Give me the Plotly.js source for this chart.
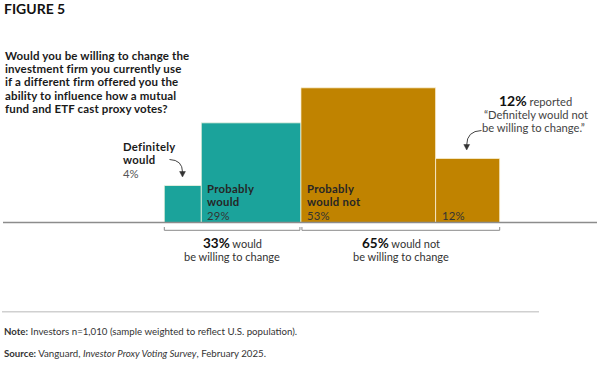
<!DOCTYPE html>
<html>
<head>
<meta charset="utf-8">
<script src="https://cdn.plot.ly/plotly-3.0.1.min.js"></script>
<style>html,body{margin:0;padding:0;background:#fff;}#chart{width:600px;height:366px;}</style>
</head>
<body>
<div id="chart"></div>
<script>
// ---- data ----
const categories = ["Definitely would", "Probably would", "Probably would not", "Definitely would not"];
const labelLines = [["Definitely", "would"], ["Probably", "would"], ["Probably", "would not"], []];
const values = [4, 29, 53, 12];
const groupLead = ["would", "would not"];
const groupTail = "be willing to change";
const groupTotals = [33, 65];
const groupMembers = [[0, 1], [2, 3]];
const questionLines = [
  "Would you be willing to change the",
  "investment firm you currently use",
  "if a different firm offered you the",
  "ability to influence how a mutual",
  "fund and ETF cast proxy votes?"
];
const calloutLines = ["reported", "\u201cDefinitely would not", "be willing to change.\u201d"];
const figureLabel = "FIGURE 5";
const noteText = "Investors n=1,010 (sample weighted to reflect U.S. population).";
const sourceParts = ["Vanguard, ", "Investor Proxy Voting Survey", ", February 2025."];

// ---- styling ----
const W = 600, H = 366;
const FONT = "Lato, 'Open Sans', sans-serif";
const TEAL = "#1BA39B", GOLD = "#C08300";
const barColors = [TEAL, TEAL, GOLD, GOLD];
const k = 18.5;           // px per sqrt-unit
const x0px = 164.3;       // left edge of first square
const basePx = 222.5;     // baseline pixel

const sides = values.map(v => Math.sqrt(v));
const lefts = [];
let acc = 0;
sides.forEach(s => { lefts.push(acc); acc += s; });
const centers = sides.map((s, i) => lefts[i] + s / 2);

const px = x => x / W;
const py = y => 1 - y / H;
const sp = (t, ls) => '<span style="letter-spacing:' + ls + 'px">' + t + '</span>';

const annotations = [];
function txt(text, x, y, opts) {
  annotations.push(Object.assign({
    text: text, xref: 'paper', yref: 'paper', x: px(x), y: py(y),
    xanchor: 'left', yanchor: 'middle', showarrow: false,
    font: {family: FONT, size: 11, color: '#1a1a1a'}
  }, opts || {}));
}

txt('<b>' + figureLabel + '</b>', 2, 8, {font: {family: FONT, size: 14, color: '#111'}});
questionLines.forEach((l, i) => txt('<b>' + sp(l, 0.15) + '</b>', 3, 55 + i * 13.4, {font: {family: FONT, size: 11.5, color: '#1a1a1a'}}));

// Bar labels inside squares (for all but first), one line each
const labelY = [188.3, 201.3, 215];
for (let i = 1; i < values.length; i++) {
  const lines = labelLines[i].map(s => ({t: '<b>' + sp(s, 0.3) + '</b>', c: '#262626'}))
    .concat([{t: sp(values[i] + '%', 0.2), c: '#333'}]);
  const start = labelY.length - lines.length;
  lines.forEach((ln, j) => {
    annotations.push({
      text: ln.t, xref: 'x', yref: 'y', x: lefts[i], y: 0, xshift: 4, yshift: basePx - labelY[start + j],
      xanchor: 'left', yanchor: 'middle', showarrow: false,
      font: {family: FONT, size: 11.3, color: ln.c}
    });
  });
}
// First bar label outside (left)
const defY = [146.7, 159.8, 173];
labelLines[0].forEach((s, j) => txt('<b>' + sp(s, 0.3) + '</b>', 121, defY[j], {font: {family: FONT, size: 11.3, color: '#1a1a1a'}}));
txt(values[0] + '%', 121, defY[2], {font: {family: FONT, size: 11.3, color: '#555'}});

// Callout for last
const cy = [100.7, 114, 127.3];
txt('<span style="font-size:14px;color:#111"><b>' + values[3] + '%</b></span> ' + calloutLines[0], 535, cy[0], {xanchor: 'center', font: {family: FONT, size: 11.2, color: '#444'}});
txt(calloutLines[1], 535.5, cy[1], {xanchor: 'center', font: {family: FONT, size: 11.2, color: '#444'}});
txt(calloutLines[2], 533.5, cy[2], {xanchor: 'center', font: {family: FONT, size: 11.2, color: '#444'}});

// Group brackets and texts
const shapes = [];
const gapU = 1 / k;
groupMembers.forEach((mem, g) => {
  const a = lefts[mem[0]] + (g === 0 ? 0 : gapU);
  const b = lefts[mem[mem.length - 1]] + sides[mem[mem.length - 1]] - (g === 0 ? gapU : 0);
  shapes.push({
    type: 'path', xref: 'x', yref: 'paper',
    path: `M ${a},${py(227)} L ${a},${py(230.3)} L ${b},${py(230.3)} L ${b},${py(227)}`,
    line: {color: '#8a8a8a', width: 1}
  });
  annotations.push({
    text: '<span style="font-size:13.5px;color:#111"><b>' + groupTotals[g] + '%</b></span> ' + groupLead[g],
    xref: 'x', yref: 'paper', x: (a + b) / 2, y: py(242.7),
    xanchor: 'center', yanchor: 'middle', showarrow: false,
    font: {family: FONT, size: 11, color: '#333'}
  });
  annotations.push({
    text: groupTail,
    xref: 'x', yref: 'paper', x: (a + b) / 2, y: py(256),
    xanchor: 'center', yanchor: 'middle', showarrow: false,
    font: {family: FONT, size: 11, color: '#333'}
  });
});

// baseline
shapes.push({type: 'line', xref: 'paper', yref: 'y', x0: px(3), x1: px(597), y0: 0, y1: 0,
  line: {color: '#8c8c8c', width: 1.5}});
// separator
shapes.push({type: 'line', xref: 'paper', yref: 'paper', x0: px(2), x1: px(539), y0: py(311.7), y1: py(311.7),
  line: {color: '#d0d0d0', width: 1.5}});
// arrows
function P(x, y) { return px(x) + ',' + py(y); }
shapes.push({type: 'path', xref: 'paper', yref: 'paper',
  path: `M ${P(169.5, 159.5)} Q ${P(182.5, 160)} ${P(182.5, 172)}`, line: {color: '#444', width: 1}});
shapes.push({type: 'path', xref: 'paper', yref: 'paper',
  path: `M ${P(179.6, 171.5)} L ${P(185.4, 171.5)} L ${P(182.5, 177)} Z`, fillcolor: '#333', line: {color: '#333', width: 0.5}});
shapes.push({type: 'path', xref: 'paper', yref: 'paper',
  path: `M ${P(481.5, 130.5)} Q ${P(466.7, 131)} ${P(466.7, 145)}`, line: {color: '#444', width: 1}});
shapes.push({type: 'path', xref: 'paper', yref: 'paper',
  path: `M ${P(463.8, 144.5)} L ${P(469.6, 144.5)} L ${P(466.7, 150)} Z`, fillcolor: '#333', line: {color: '#333', width: 0.5}});

// note & source
txt('<b>Note:</b> ' + noteText, 2, 331, {font: {family: FONT, size: 9.7, color: '#333'}});
txt('<b>Source:</b> ' + sourceParts[0] + '<i>' + sourceParts[1] + '</i>' + sourceParts[2], 2, 353, {font: {family: FONT, size: 9.7, color: '#333'}});

const trace = {
  type: 'bar', x: centers, y: sides, width: sides, base: 0,
  marker: {color: barColors, line: {color: 'rgba(255,250,230,0.7)', width: 1}},
  hoverinfo: 'skip', text: categories, textposition: 'none'
};

const layout = {
  width: W, height: H, margin: {l: 0, r: 0, t: 0, b: 0, pad: 0},
  paper_bgcolor: '#fff', plot_bgcolor: '#fff', showlegend: false,
  xaxis: {range: [-x0px / k, (W - x0px) / k], visible: false, fixedrange: true},
  yaxis: {range: [-(H - basePx) / k, basePx / k], visible: false, fixedrange: true},
  bargap: 0, annotations: annotations, shapes: shapes
};
Plotly.newPlot('chart', [trace], layout, {staticPlot: true, displayModeBar: false});
</script>
</body>
</html>
